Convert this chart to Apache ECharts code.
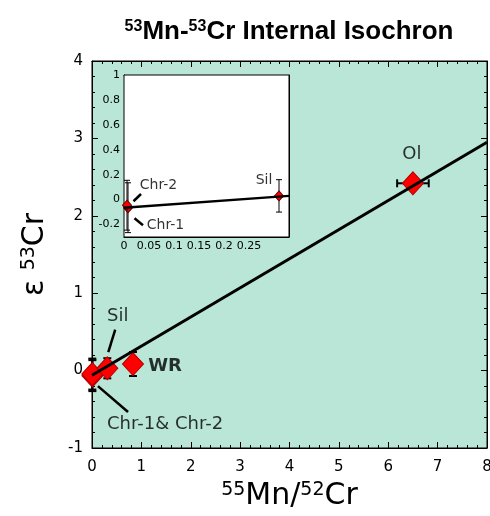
<!DOCTYPE html>
<html>
<head>
<meta charset="utf-8">
<script src="https://cdn.jsdelivr.net/npm/echarts@6/dist/echarts.min.js"></script>
<style>
  html, body { margin: 0; padding: 0; background: #fff; }
  #chart { width: 490px; height: 516px; }
</style>
</head>
<body>
<div id="chart"></div>
<script>
// samples: Mn/Cr ratio, eps53Cr, errors
const sampleNames = ['Chr-1', 'Chr-2', 'Sil', 'WR', 'Ol']
const mnCr = [0.008, 0.006, 0.31, 0.83, 6.5]
const eps53 = [-0.065, -0.045, 0.03, 0.085, 2.42]
const errX = [0, 0, 0, 0, 0.32]
const errY = [0.2, 0.2, 0.13, 0.155, 0]

// isochron fit line end points
const isoX = [0, 8]
const isoY = [-0.06, 2.95]

// inset shows the first three samples
const insetCount = 3
const insetIsoX = [0, 0.33]
const insetIsoY = [-0.065, 0.03]

// tick labels
const mainXTicks = [0, 1, 2, 3, 4, 5, 6, 7, 8]
const mainYTicks = [-1, 0, 1, 2, 3, 4]
const insetXTicks = [0, 0.05, 0.1, 0.15, 0.2, 0.25]
const insetYTicks = [-0.2, 0, 0.2, 0.4, 0.6, 0.8, 1]

// text notes [text, x, y]
const mainNotes = [['Ol', 6.48, 2.79], ['Sil', 0.52, 0.70], ['Chr-1& Chr-2', 1.48, -0.69]]
const mainBoldNotes = [['WR', 1.48, 0.06]]
const mainLeaders = [[[0.47, 0.53], [0.33, 0.24]], [[0.12, -0.2], [0.73, -0.535]]]
const insetNotes = [['Chr-2', 0.069, 0.112], ['Chr-1', 0.083, -0.205], ['Sil', 0.28, 0.155]]
const insetLeaders = [[[0.019, -0.013], [0.034, 0.045]], [[0.021, -0.15], [0.038, -0.205]]]

const font = 'DejaVu Sans'
const mint = '#b9e6d7'

function pick (ticks) {
  return function (v) {
    for (const t of ticks) {
      if (Math.abs(t - v) < 1e-6) return String(t)
    }
    return ''
  }
}

function errorBars (lw, cap) {
  return function (params, api) {
    const x = api.value(0)
    const y = api.value(1)
    const ex = api.value(2)
    const ey = api.value(3)
    const st = { stroke: '#000', lineWidth: lw }
    const kids = []
    if (ey > 0) {
      const a = api.coord([x, y + ey])
      const b = api.coord([x, y - ey])
      kids.push({ type: 'line', shape: { x1: a[0], y1: a[1], x2: b[0], y2: b[1] }, style: st })
      kids.push({ type: 'line', shape: { x1: a[0] - cap, y1: a[1], x2: a[0] + cap, y2: a[1] }, style: st })
      kids.push({ type: 'line', shape: { x1: b[0] - cap, y1: b[1], x2: b[0] + cap, y2: b[1] }, style: st })
    }
    if (ex > 0) {
      const a = api.coord([x - ex, y])
      const b = api.coord([x + ex, y])
      kids.push({ type: 'line', shape: { x1: a[0], y1: a[1], x2: b[0], y2: b[1] }, style: st })
      kids.push({ type: 'line', shape: { x1: a[0], y1: a[1] - cap, x2: a[0], y2: a[1] + cap }, style: st })
      kids.push({ type: 'line', shape: { x1: b[0], y1: b[1] - cap, x2: b[0], y2: b[1] + cap }, style: st })
    }
    return { type: 'group', children: kids }
  }
}

function axisBase (min, max, interval, split, labelSize, showLabel, fmt, margin) {
  return {
    type: 'value',
    min: min,
    max: max,
    interval: interval,
    axisLine: { show: true, onZero: false, lineStyle: { color: '#000', width: 1 } },
    axisTick: { show: true, inside: true, length: 6, lineStyle: { color: '#000' } },
    minorTick: { show: true, splitNumber: split, length: 3, lineStyle: { color: '#000' } },
    splitLine: { show: false },
    axisLabel: { show: showLabel, color: '#000', fontFamily: font, fontSize: labelSize, margin: margin, formatter: fmt }
  }
}

const rows = sampleNames.map((n, i) => [mnCr[i], eps53[i], errX[i], errY[i], n])
const insetRows = rows.slice(0, insetCount)

let chart = echarts.init(document.getElementById('chart'))

let mxBottom = axisBase(0, 8, 1, 5, 15, true, pick(mainXTicks), 12)
mxBottom.name = '{s|55}{m|Mn/}{s|52}{m|Cr}'
mxBottom.nameLocation = 'middle'
mxBottom.nameGap = 33
mxBottom.nameTextStyle = {
  rich: {
    m: { fontFamily: font, fontSize: 30, color: '#000', verticalAlign: 'bottom' },
    s: { fontFamily: font, fontSize: 19, color: '#000', verticalAlign: 'top' }
  }
}
let mxTop = axisBase(0, 8, 1, 5, 15, false, null, 8)
mxTop.position = 'top'

let myLeft = axisBase(-1, 4, 1, 5, 15, true, pick(mainYTicks), 9)
myLeft.name = '{m|ε }{s|53}{m|Cr}'
myLeft.nameLocation = 'middle'
myLeft.nameGap = 42
myLeft.nameRotate = 90
myLeft.nameTextStyle = {
  rich: {
    m: { fontFamily: font, fontSize: 30, color: '#000', verticalAlign: 'bottom' },
    s: { fontFamily: font, fontSize: 19, color: '#000', verticalAlign: 'top' }
  }
}
let myRight = axisBase(-1, 4, 1, 5, 15, false, null, 8)
myRight.position = 'right'

let ixBottom = axisBase(0, 0.33, 0.05, 5, 11, true, pick(insetXTicks), 4)
ixBottom.axisTick.length = 3
ixBottom.minorTick.length = 2
let ixTop = axisBase(0, 0.33, 0.05, 5, 11, false, null, 4)
ixTop.position = 'top'
ixTop.axisTick.length = 3
ixTop.minorTick.length = 2
let iyLeft = axisBase(-0.3, 1, 0.1, 2, 11, true, pick(insetYTicks), 4)
iyLeft.axisTick.length = 3
iyLeft.minorTick.show = false
let iyRight = axisBase(-0.3, 1, 0.1, 2, 11, false, null, 4)
iyRight.position = 'right'
iyRight.axisTick.length = 3
iyRight.minorTick.show = false
;[ixBottom, ixTop, iyLeft, iyRight].forEach(a => { a.gridIndex = 1 })

function noteSeries (notes, xi, yi, size, weight) {
  return {
    type: 'scatter',
    xAxisIndex: xi,
    yAxisIndex: yi,
    symbolSize: 0,
    silent: true,
    z: 6,
    data: notes.map(n => ({ value: [n[1], n[2]], name: n[0] })),
    label: {
      show: true,
      position: 'inside',
      formatter: p => p.name,
      color: '#000',
      fontFamily: font,
      fontSize: size,
      fontWeight: weight
    }
  }
}

function leaderSeries (segs, xi, yi, w) {
  return {
    type: 'lines',
    coordinateSystem: 'cartesian2d',
    xAxisIndex: xi,
    yAxisIndex: yi,
    silent: true,
    z: 5,
    lineStyle: { color: '#000', width: w, opacity: 1 },
    data: segs.map(s => ({ coords: s }))
  }
}

let option = {
  animation: false,
  grid: [
    { left: 92, right: 3, top: 61, bottom: 68, outerBoundsMode: 'none', containLabel: false, show: true, backgroundColor: mint, borderColor: '#000', borderWidth: 1, z: 0 },
    { left: 124, right: 201, top: 75, bottom: 279, outerBoundsMode: 'none', containLabel: false, show: true, backgroundColor: '#fff', borderColor: '#000', borderWidth: 1, z: 1 }
  ],
  graphic: [{
    type: 'text',
    x: 289,
    y: 32,
    style: {
      text: '{s|53}{b|Mn-}{s|53}{b|Cr Internal Isochron}',
      align: 'center',
      verticalAlign: 'middle',
      rich: {
        b: { fontFamily: 'Liberation Sans', fontWeight: 'bold', fontSize: 26, fill: '#000', verticalAlign: 'bottom' },
        s: { fontFamily: 'Liberation Sans', fontWeight: 'bold', fontSize: 16, fill: '#000', verticalAlign: 'top' }
      }
    }
  }],
  xAxis: [mxBottom, mxTop, ixBottom, ixTop],
  yAxis: [myLeft, myRight, iyLeft, iyRight],
  series: [
    {
      type: 'custom',
      xAxisIndex: 0,
      yAxisIndex: 0,
      renderItem: errorBars(2, 4),
      data: rows,
      z: 3
    },
    {
      type: 'scatter',
      xAxisIndex: 0,
      yAxisIndex: 0,
      symbol: 'diamond',
      symbolSize: [21, 23],
      itemStyle: { color: '#ff0000', borderColor: '#b00000', borderWidth: 1, opacity: 1 },
      data: rows,
      z: 4
    },
    {
      type: 'line',
      xAxisIndex: 0,
      yAxisIndex: 0,
      symbol: 'none',
      lineStyle: { color: '#000', width: 3 },
      data: isoX.map((x, i) => [x, isoY[i]]),
      z: 5
    },
    noteSeries(mainNotes, 0, 0, 18, 'normal'),
    noteSeries(mainBoldNotes, 0, 0, 18, 'bold'),
    leaderSeries(mainLeaders, 0, 0, 2.5),
    {
      type: 'custom',
      xAxisIndex: 2,
      yAxisIndex: 2,
      renderItem: errorBars(1, 3),
      data: insetRows,
      z: 3
    },
    {
      type: 'scatter',
      xAxisIndex: 2,
      yAxisIndex: 2,
      symbol: 'diamond',
      symbolSize: [9, 10],
      itemStyle: { color: '#ff0000', borderColor: '#600000', borderWidth: 1, opacity: 1 },
      data: insetRows,
      z: 4
    },
    {
      type: 'line',
      xAxisIndex: 2,
      yAxisIndex: 2,
      symbol: 'none',
      lineStyle: { color: '#000', width: 2.5 },
      data: insetIsoX.map((x, i) => [x, insetIsoY[i]]),
      z: 5
    },
    noteSeries(insetNotes, 2, 2, 14, 'normal'),
    leaderSeries(insetLeaders, 2, 2, 2.5)
  ]
}

chart.setOption(option)
window.addEventListener('resize', () => chart.resize())
</script>
</body>
</html>
